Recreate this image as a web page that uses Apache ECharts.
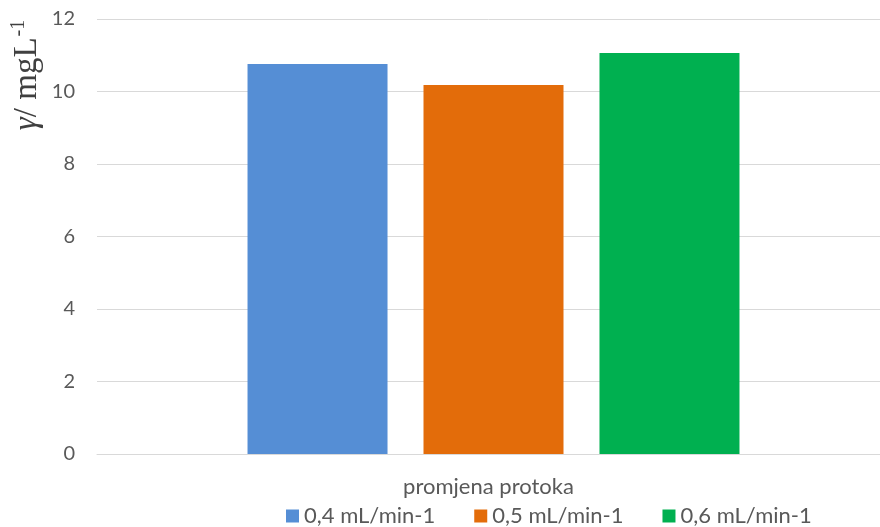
<!DOCTYPE html>
<html><head><meta charset="utf-8">
<script src="https://cdn.jsdelivr.net/npm/echarts@6/dist/echarts.min.js"></script>
<style>html,body{margin:0;padding:0;background:#fff}#c{width:880px;height:527px}</style>
</head><body><div id="c"></div>
<script>
const categories = ['promjena protoka'];
const seriesNames = ['0,4 mL/min-1', '0,5 mL/min-1', '0,6 mL/min-1'];
const seriesValues = [[10.76], [10.18], [11.06]];
const colors = ['#558ED5', '#E36C0A', '#00B050'];
const yTicks = [0, 2, 4, 6, 8, 10, 12];

const chart = echarts.init(document.getElementById('c'));
const font = 'Lato, "Open Sans", sans-serif';
const yMin = yTicks[0], yMax = yTicks[yTicks.length - 1];
chart.setOption({
  animation: false,
  grid: [
    { left: 97, right: 0, top: 19, bottom: 73, containLabel: false },
    { left: 107, right: 0, top: 19, bottom: 73, containLabel: false }
  ],
  legend: {
    top: 505, left: 286, padding: 0,
    itemWidth: 13, itemHeight: 13, itemGap: 39,
    icon: 'rect',
    textStyle: { color: '#595959', fontSize: 22, lineHeight: 22, fontFamily: font },
    data: seriesNames
  },
  xAxis: [{
    gridIndex: 0, type: 'category', data: categories,
    axisLine: { lineStyle: { color: '#d9d9d9', width: 1 } },
    axisTick: { show: false },
    axisLabel: { color: '#595959', fontSize: 22, fontFamily: font, margin: 22 }
  }, {
    gridIndex: 1, type: 'category', data: categories,
    axisLine: { show: false }, axisTick: { show: false }, axisLabel: { show: false }
  }],
  yAxis: [{
    gridIndex: 0, type: 'value', min: yMin, max: yMax, interval: 2,
    axisLine: { show: false }, axisTick: { show: false },
    splitLine: { lineStyle: { color: '#d9d9d9' } },
    axisLabel: { color: '#595959', fontSize: 20, fontFamily: font, margin: 22 }
  }, {
    gridIndex: 1, type: 'value', min: yMin, max: yMax, interval: 2,
    axisLine: { show: false }, axisTick: { show: false },
    splitLine: { show: false }, axisLabel: { show: false }
  }],
  graphic: [{
    type: 'text', x: 27, y: 75, rotation: Math.PI / 2,
    style: {
      text: '{g|γ}{n|/ mgL}{s|-1}',
      align: 'center', verticalAlign: 'middle',
      rich: {
        g: { fontFamily: '"Liberation Serif", serif', fontStyle: 'italic', fontSize: 33, fill: '#404040' },
        n: { fontFamily: '"Liberation Serif", serif', fontSize: 33, fill: '#404040' },
        s: { fontFamily: '"Liberation Serif", serif', fontSize: 20, fill: '#404040', verticalAlign: 'top', padding: [0,0,16,1] }
      }
    }
  }],
  series: seriesNames.map((n, i) => ({
    name: n, type: 'bar', data: seriesValues[i],
    xAxisIndex: 1, yAxisIndex: 1,
    barWidth: 140, barGap: '25.7%',
    itemStyle: { color: colors[i] }
  }))
});
</script></body></html>
